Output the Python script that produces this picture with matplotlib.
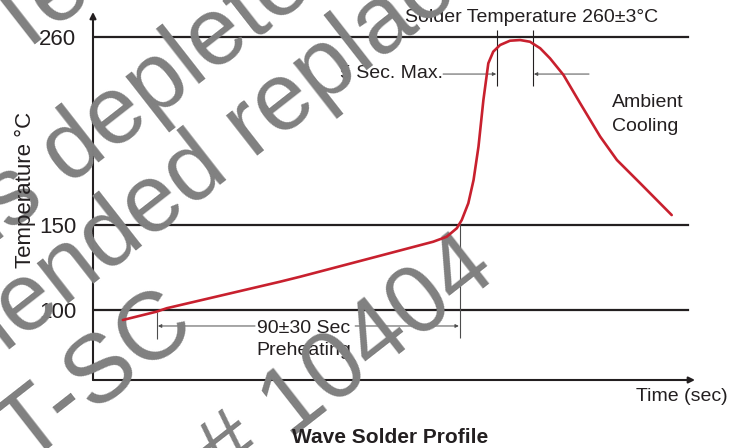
import numpy as np
import matplotlib.pyplot as plt

plt.rcParams['font.family'] = ['Liberation Sans', 'DejaVu Sans']

# profile (time in sec, temperature in deg C)
time_s = [9.1, 19.4, 22.5, 57.0, 63.1, 87.5, 103.7, 107.8, 110.9, 112.4,
          114.4, 116.0, 117.5, 119.0, 120.5, 122.0, 124.1, 127.1, 130.2, 133.2,
          136.3, 139.3, 143.4, 148.5, 154.6, 159.7, 166.8, 176.4]
temp_c = [94.4, 99.3, 101.3, 116.8, 119.7, 132.0, 140.2, 143.1, 148.1, 152.9,
          162.7, 176.3, 195.8, 223.1, 244.6, 251.4, 255.3, 257.8, 258.2, 257.2,
          253.4, 247.5, 237.8, 221.2, 201.7, 188.0, 174.4, 155.8]

ref_temps = [100, 150, 260]
ref_labels = ['100', '150', '260']

peak_start, peak_end = 123.2, 134.1
preheat_start, preheat_end = 19.4, 111.9

watermark = ['Technical', 'is depleted', 'recommended replacement', 'T-SC', '# 10404']

ink = '#231f20'
thin = '#4d4d4d'
red = '#c8202e'

W, H = 737, 448
fig = plt.figure(figsize=(W / 100, H / 100), dpi=100)
ax = fig.add_axes([93 / W, (H - 380) / H, (695 - 93) / W, (380 - 12) / H])
ax.set_xlim(0, 183.5)
ax.set_ylim(59.3, 274.6)
for s in ax.spines.values():
    s.set_visible(False)
ax.set_xticks([])
ax.set_yticks(ref_temps)
ax.set_yticklabels(ref_labels, fontsize=16, color=ink)
ax.tick_params(axis='y', length=0, pad=12)

# axes with arrow heads
arr = dict(arrowstyle='-|>', lw=1.5, color=ink, mutation_scale=9, shrinkA=0, shrinkB=0)
ax.annotate('', xy=(0, 1), xytext=(0, 0), xycoords='axes fraction', arrowprops=arr)
ax.annotate('', xy=(1, 0), xytext=(0, 0), xycoords='axes fraction', arrowprops=arr)

for t in ref_temps:
    ax.axhline(t, xmin=0, xmax=181.4 / 183.5, color=ink, lw=1.6)

ax.plot(time_s, temp_c, color=red, lw=1.9, solid_capstyle='round',
        solid_joinstyle='round', zorder=5)

# peak time markers
ax.vlines([peak_start, peak_end], 231.3, 264.1, color=ink, lw=0.8)
small = dict(arrowstyle='-|>', lw=0.7, color=thin, mutation_scale=5, shrinkA=0, shrinkB=0)
ax.annotate('', xy=(peak_start - 0.3, 238.3), xytext=(106.7, 238.3), arrowprops=small)
ax.annotate('', xy=(peak_end + 0.3, 238.3), xytext=(151.2, 238.3), arrowprops=small)
ax.text(106.7, 236.0, '5 Sec. Max.', fontsize=14, ha='right', va='baseline', color=ink)
ax.text(95.1, 268.8, 'Solder Temperature 260\u00b13\u00b0C', fontsize=14, va='baseline', color=ink)
ax.text(158.1, 218.9, 'Ambient', fontsize=14, va='baseline', color=ink)
ax.text(158.1, 205.0, 'Cooling', fontsize=14, va='baseline', color=ink)

# preheat markers
ax.vlines(preheat_start, 83.1, 99.3, color=thin, lw=0.8)
ax.vlines(preheat_end, 83.7, 150.8, color=thin, lw=0.8)
ax.annotate('', xy=(preheat_start + 0.4, 90.9), xytext=(49.4, 90.9), arrowprops=small)
ax.annotate('', xy=(preheat_end - 0.4, 90.9), xytext=(79.9, 90.9), arrowprops=small)
ax.text(49.9, 87.0, '90\u00b130 Sec', fontsize=14, va='baseline', color=ink)
ax.text(49.9, 73.9, 'Preheating', fontsize=14, va='baseline', color=ink)

ax.text(165.5, 47.2, 'Time (sec)', fontsize=14, va='baseline', color=ink)
fig.text(25 / W, 1 - 190 / H, 'Temperature \u00b0C', rotation=90, fontsize=16,
         ha='center', va='center', color=ink)
fig.text(390 / W, 1 - 443 / H, 'Wave Solder Profile', fontsize=15, fontweight='bold',
         ha='center', va='baseline', color=ink)

# watermark stamped across the page (over the labels, under the red profile)
wm_x = [15, -7, -251, 26, 226]
wm_y = [58, 245.5, 553, 464.7, 489]
for s, x, y in zip(watermark, wm_x, wm_y):
    ax.text(x / W, 1 - y / H, s, fontsize=69, color='#808080', rotation=38,
            rotation_mode='anchor', ha='left', va='baseline', zorder=4,
            transform=fig.transFigure, clip_on=False)

plt.savefig('out.png', dpi=100)
